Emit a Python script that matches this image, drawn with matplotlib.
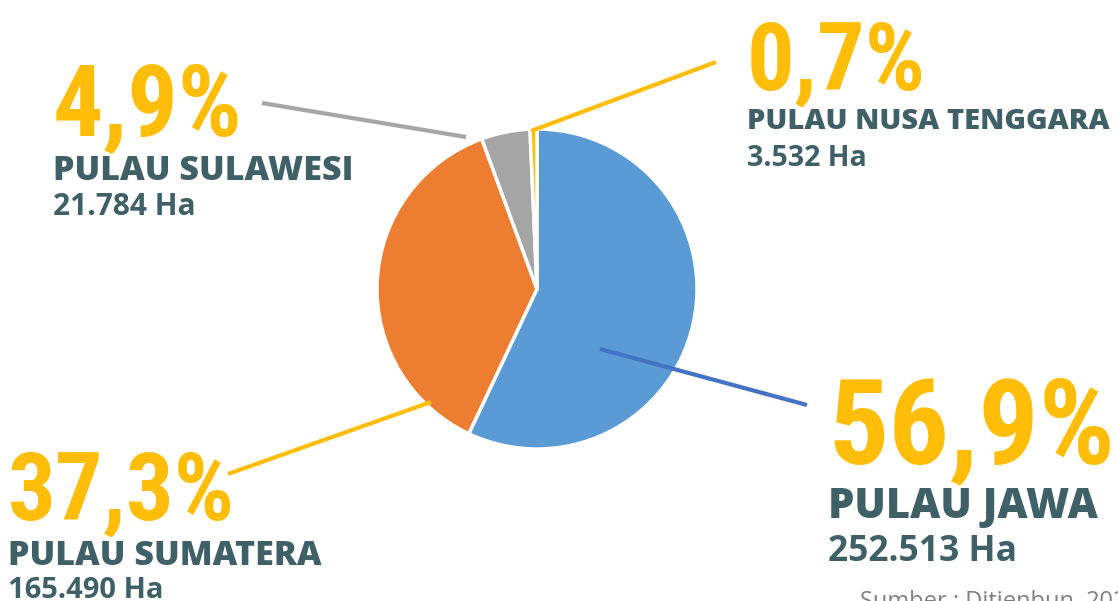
import matplotlib
matplotlib.use("Agg")
import matplotlib.pyplot as plt

# luas areal per pulau (Ha) dan persentasenya
islands = ["PULAU JAWA", "PULAU SUMATERA", "PULAU SULAWESI", "PULAU NUSA TENGGARA"]
areas_ha = ["252.513 Ha", "165.490 Ha", "21.784 Ha", "3.532 Ha"]
shares = [56.9, 37.3, 4.9, 0.7]
share_labels = ["56,9%", "37,3%", "4,9%", "0,7%"]
colors = ["#5B9BD5", "#ED7D31", "#A5A5A5", "#FFC000"]
source = "Sumber : Ditjenbun, 2021"

W, H = 1118, 601
YELLOW = "#FDBD08"
TEAL = "#3F6066"

fig = plt.figure(figsize=(W / 100, H / 100), dpi=100)
ax = fig.add_axes([0, 0, 1, 1])

ax.pie(shares, colors=colors, startangle=90, counterclock=False,
       center=(537, H - 289), radius=160,
       wedgeprops=dict(edgecolor="white", linewidth=2.5))

# pie() resets the limits, so set them afterwards
ax.set_xlim(0, W)
ax.set_ylim(0, H)
ax.set_aspect("equal")
ax.axis("off")

# leader lines: (x0, y0, x1, y1, colour) in pixel positions from top
leaders = [
    (600, 349, 807, 405, "#4472C4"),
    (431, 402, 228, 474, YELLOW),
    (466, 137, 262, 103, "#A5A5A5"),
    (531, 131, 716, 62, YELLOW),
]
for x0, y0, x1, y1, c in leaders:
    ax.plot([x0, x1], [H - y0, H - y1], color=c, lw=3, solid_capstyle="butt", zorder=3)

# label layout: x, baseline of pct / name / area, font sizes
layout = [
    (828, 463, 518, 561, 86, 30, 25.5),
    (8, 520, 565, 598, 68, 24.5, 21),
    (53, 136, 180, 215, 72, 24.5, 21.5),
    (747, 90, 129, 166, 68, 21, 20.5),
]
pct_font = ["Roboto Condensed", "Liberation Sans Narrow", "DejaVu Sans"]
name_font = ["Open Sans", "DejaVu Sans"]

for i, (x, b1, b2, b3, s1, s2, s3) in enumerate(layout):
    ax.text(x, H - b1, share_labels[i], family=pct_font, weight="black",
            stretch="extra-condensed", fontsize=s1, color=YELLOW,
            ha="left", va="baseline")
    ax.text(x, H - b2, islands[i], family=name_font, weight="heavy",
            fontsize=s2, color=TEAL, ha="left", va="baseline")
    ax.text(x, H - b3, areas_ha[i], family=name_font, weight="bold",
            fontsize=s3, color=TEAL, ha="left", va="baseline")

ax.text(860, H - 608, source, family=name_font, fontsize=17,
        color="#7F7F7F", ha="left", va="baseline")

fig.savefig("out.png", dpi=100)
